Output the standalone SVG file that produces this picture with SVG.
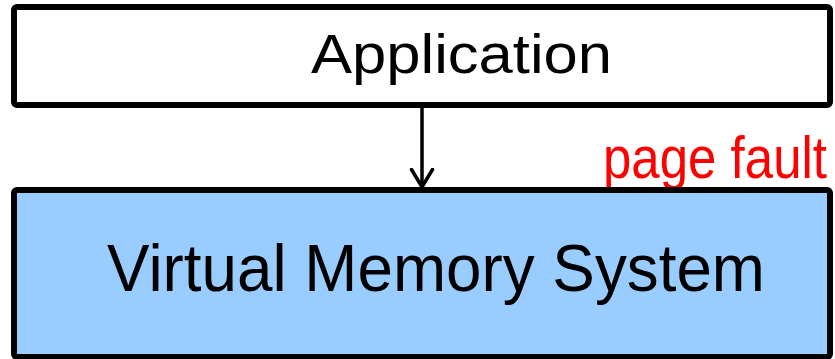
<svg xmlns="http://www.w3.org/2000/svg" width="835" height="359" viewBox="0 0 835 359">
  <defs>
    <style>
      .box { stroke: #000; stroke-width: 6; }
      .label { font-family: "Liberation Sans", Arial, sans-serif; fill: #000; }
      .note { font-family: "Liberation Sans", Arial, sans-serif; fill: #FF0000; }
      .conn { stroke: #000; stroke-width: 3.5; fill: none; }
    </style>
    <marker id="openArrow" markerUnits="userSpaceOnUse" markerWidth="22" markerHeight="26" refX="19" refY="12" orient="auto" viewBox="0 0 22 24">
      <path d="M1.5,1.5 L19,12 L1.5,22.5" fill="none" stroke="#000" stroke-width="3.5" stroke-linecap="round" stroke-linejoin="miter"/>
    </marker>
  </defs>
  <rect width="835" height="359" fill="#FFFFFF"/>

  <!-- annotation sits behind the lower box, so its descenders tuck under the border -->
  <g id="page-fault">
    <text class="note" x="603" y="178" font-size="60" textLength="224" lengthAdjust="spacingAndGlyphs">page fault</text>
  </g>

  <g id="application">
    <rect class="box" x="14" y="7" width="816" height="98" rx="3" fill="#FFFFFF"/>
    <text class="label" x="311" y="73" font-size="56" textLength="301" lengthAdjust="spacingAndGlyphs">Application</text>
  </g>

  <g id="vm-system">
    <rect class="box" x="14" y="190" width="816" height="167" rx="3" fill="#99CCFF"/>
    <text class="label" x="107" y="291" font-size="66" textLength="658" lengthAdjust="spacingAndGlyphs">Virtual Memory System</text>
  </g>

  <g id="connectors">
    <line class="conn" x1="422" y1="105" x2="422" y2="187" marker-end="url(#openArrow)"/>
  </g>
</svg>
